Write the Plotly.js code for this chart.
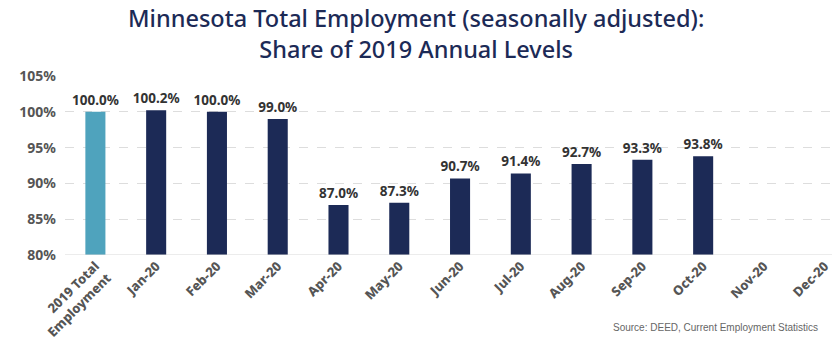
<!DOCTYPE html>
<html><head><meta charset="utf-8">
<script src="https://cdn.plot.ly/plotly-3.0.1.min.js"></script>
<style>html,body{margin:0;padding:0;background:#fff;}#chart{width:832px;height:340px;}</style>
</head><body><div id="chart"></div>
<script>
const categories = ["2019 Total<br>Employment","Jan-20","Feb-20","Mar-20","Apr-20","May-20","Jun-20","Jul-20","Aug-20","Sep-20","Oct-20","Nov-20","Dec-20"];
const shareValues = [100.0, 100.2, 100.0, 99.0, 87.0, 87.3, 90.7, 91.4, 92.7, 93.3, 93.8, null, null];
const barColors = ["#4fa3bd","#1c2a56","#1c2a56","#1c2a56","#1c2a56","#1c2a56","#1c2a56","#1c2a56","#1c2a56","#1c2a56","#1c2a56","#1c2a56","#1c2a56"];
const yTicks = [80, 85, 90, 95, 100, 105];

const trace = {
  type: 'bar',
  x: categories,
  y: shareValues,
  marker: {color: barColors},
  text: shareValues.map(v => v == null ? '' : v.toFixed(1) + '%'),
  textposition: 'outside',
  constraintext: 'none',
  cliponaxis: false,
  textfont: {family: 'Noto Sans, sans-serif', size: 13.5, color: '#333333', weight: 700},
  hoverinfo: 'none'
};

const layout = {
  width: 832, height: 340,
  margin: {l: 65, r: 0, t: 76, b: 85},
  paper_bgcolor: '#fff', plot_bgcolor: '#fff',
  bargap: 0.67,
  showlegend: false,
  xaxis: {
    type: 'category',
    range: [-0.5, 12.12],
    tickangle: -45,
    tickfont: {family: 'Noto Sans, sans-serif', size: 13, color: '#555555', weight: 800},
    showgrid: false,
    showline: false,
    ticks: '',
    fixedrange: true
  },
  yaxis: {
    range: [80, 105],
    tickvals: yTicks,
    ticktext: yTicks.map(v => v + '%'),
    tickfont: {family: 'Noto Sans, sans-serif', size: 14, color: '#555555', weight: 700},
    showgrid: true,
    gridcolor: '#dddddd',
    griddash: 'dash',
    gridwidth: 1,
    zeroline: false,
    showline: false,
    ticks: '',
    ticklabelstandoff: 8,
    fixedrange: true
  },
  shapes: [{
    type: 'line', xref: 'paper', yref: 'y', x0: 0, x1: 1, y0: 80, y1: 80,
    line: {color: '#d8d8d8', width: 1}
  }],
  annotations: [{
    text: 'Minnesota Total Employment (seasonally adjusted):<br>Share of 2019 Annual Levels',
    xref: 'paper', yref: 'paper', x: (416 - 65) / 767, y: 1, xanchor: 'center', yanchor: 'bottom',
    yshift: 9, showarrow: false,
    font: {family: 'Noto Sans, sans-serif', size: 23.5, color: '#1c2a56', weight: 500}
  }, {
    text: 'Source: DEED, Current Employment Statistics',
    xref: 'paper', yref: 'paper', x: 0.984, y: 0, xanchor: 'right', yanchor: 'bottom',
    yshift: -80, showarrow: false,
    font: {family: 'Liberation Sans, Arial, sans-serif', size: 10, color: '#666666'}
  }]
};

Plotly.newPlot('chart', [trace], layout, {displayModeBar: false, staticPlot: true});
</script>
</body></html>
